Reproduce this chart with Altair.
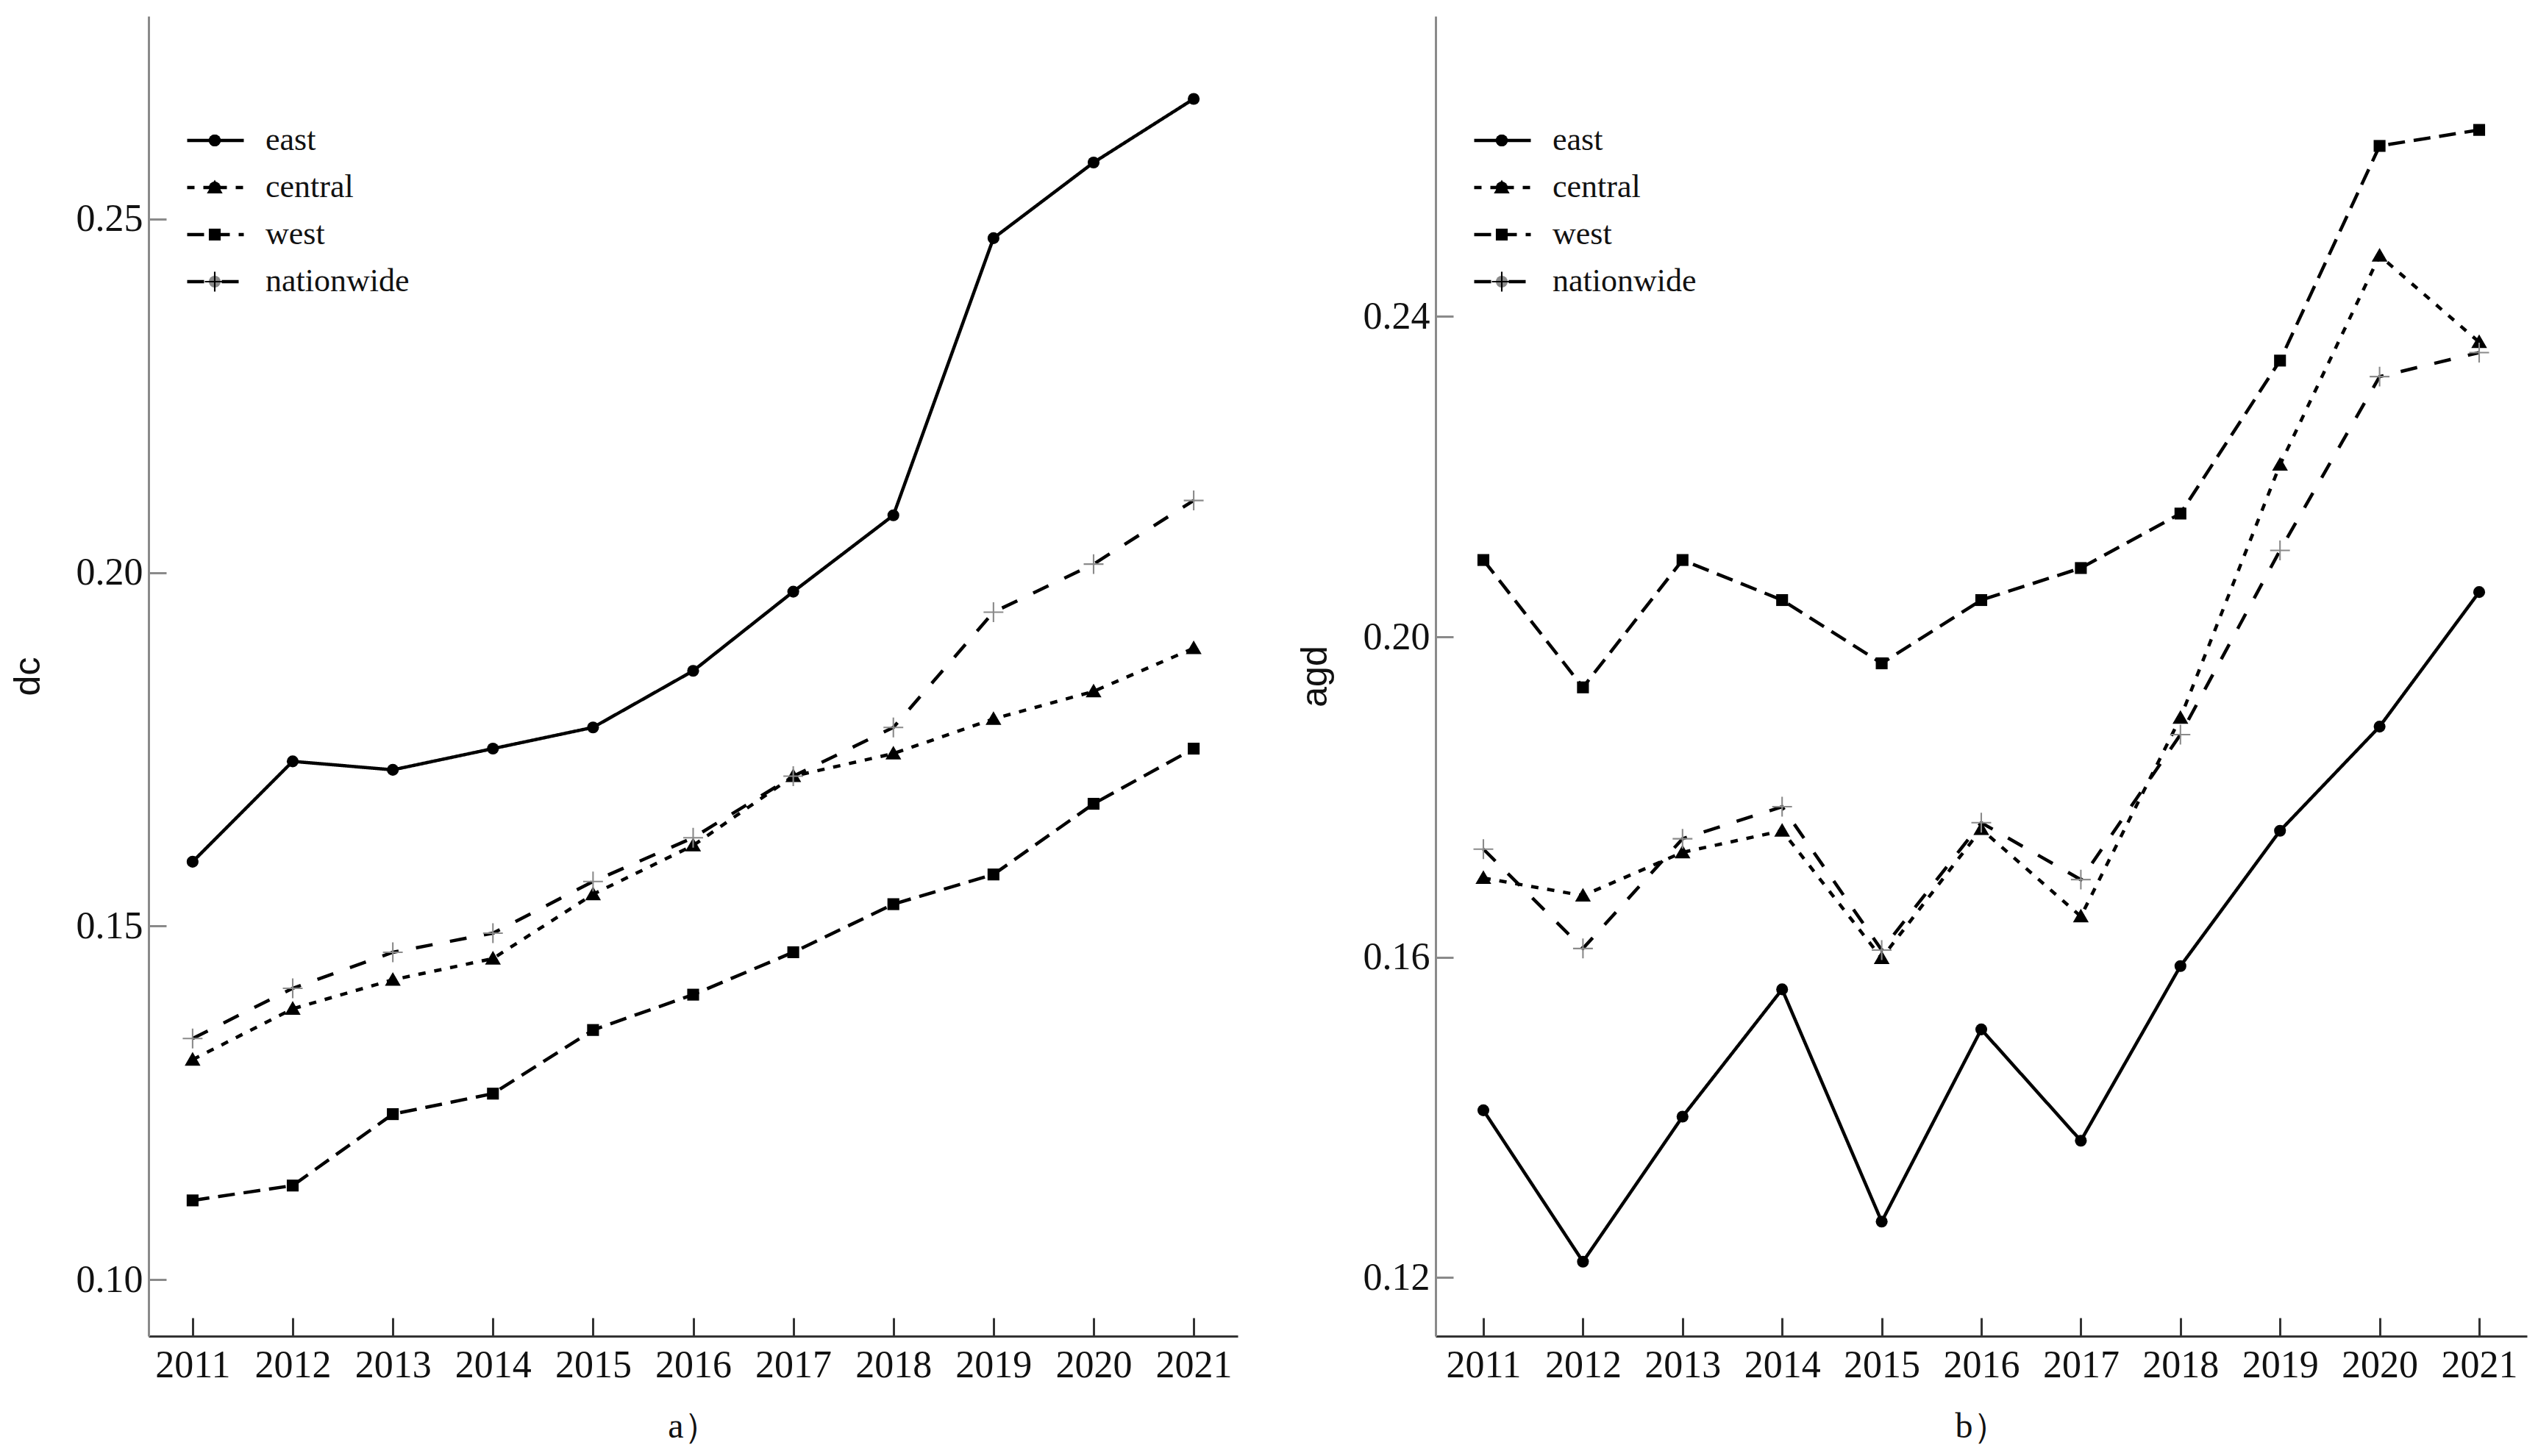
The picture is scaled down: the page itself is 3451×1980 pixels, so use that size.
import altair as alt
import pandas as pd

years = [str(y) for y in range(2011, 2022)]
series = ["east", "central", "west", "nationwide"]

# panel a) dc
dc_east = [0.1591, 0.1733, 0.1721, 0.1751, 0.1781, 0.1861, 0.1973, 0.2081, 0.2473, 0.2580, 0.2670]
dc_central = [0.1311, 0.1383, 0.1424, 0.1454, 0.1545, 0.1614, 0.1712, 0.1744, 0.1793, 0.1832, 0.1893]
dc_west = [0.1112, 0.1133, 0.1234, 0.1263, 0.1353, 0.1403, 0.1463, 0.1531, 0.1573, 0.1673, 0.1751]
dc_nation = [0.1341, 0.1412, 0.1463, 0.1490, 0.1563, 0.1625, 0.1712, 0.1781, 0.1944, 0.2012, 0.2102]

# panel b) agd
agd_east = [0.1409, 0.1220, 0.1401, 0.1560, 0.1270, 0.1510, 0.1371, 0.1589, 0.1758, 0.1888, 0.2056]
agd_central = [0.1699, 0.1677, 0.1731, 0.1758, 0.1599, 0.1760, 0.1651, 0.1899, 0.2215, 0.2476, 0.2368]
agd_west = [0.2096, 0.1937, 0.2096, 0.2046, 0.1967, 0.2046, 0.2086, 0.2154, 0.2345, 0.2613, 0.2633]
agd_nation = [0.1735, 0.1611, 0.1748, 0.1788, 0.1609, 0.1768, 0.1697, 0.1878, 0.2108, 0.2325, 0.2355]

dc_ticks = [0.10, 0.15, 0.20, 0.25]
agd_ticks = [0.12, 0.16, 0.20, 0.24]

dashes = [[1, 0], [10, 12], [23, 12], [23, 24]]
shapes = [
    "circle",
    "M0,-1.3L1.33,1.0L-1.33,1.0Z",
    "square",
    "M-1.67,-0.13H1.67V0.13H-1.67Z M-0.13,-1.67H0.13V1.67H-0.13Z",
]
colors = ["#000000", "#000000", "#000000", "#8a8a8a"]

SERIF = "Liberation Serif"
SANS = "Liberation Sans"
H = 1795


def make_df(vals):
    rows = []
    for s, v in zip(series, vals):
        for yr, x in zip(years, v):
            rows.append({"year": yr, "series": s, "series_m": s, "value": x})
    return pd.DataFrame(rows)


def panel(df, ytitle, xtitle, ydomain, yticks, xpad, width, height):
    x = alt.X(
        "year:O",
        sort=years,
        scale=alt.Scale(type="point", padding=xpad),
        axis=alt.Axis(
            title=xtitle, labelAngle=0, labelFont=SERIF, labelFontSize=52,
            labelColor="#111", labelPadding=14,
            domainColor="#333", domainWidth=3, ticks=False,
            grid=True, gridDash=[25, height - 25], gridDashOffset=25,
            gridColor="#333", gridWidth=3,
            titleFont=SERIF, titleFontSize=48, titleFontWeight="normal",
            titleColor="#111", titlePadding=34,
        ),
    )
    y = alt.Y(
        "value:Q",
        scale=alt.Scale(domain=ydomain, nice=False, zero=False),
        axis=alt.Axis(
            title=ytitle, values=yticks, format=".2f",
            labelFont=SERIF, labelFontSize=52, labelColor="#111", labelPadding=8,
            domainColor="#8a8a8a", domainWidth=3, ticks=False,
            grid=True, gridDash=[24, 5000], gridColor="#8a8a8a", gridWidth=3,
            titleFont=SANS, titleFontSize=50, titleFontWeight="normal",
            titleColor="#111", titlePadding=40,
        ),
    )
    line = alt.Chart(df).mark_line(color="black", strokeWidth=4.5).encode(
        x=x, y=y,
        strokeDash=alt.StrokeDash(
            "series:N",
            scale=alt.Scale(domain=series, range=dashes),
            legend=alt.Legend(
                title=None, orient="none", legendX=50, legendY=147,
                symbolType="stroke", symbolSize=5929, symbolStrokeWidth=4.5,
                symbolStrokeColor="black",
                labelFont=SERIF, labelFontSize=44, labelColor="#111",
                labelOffset=27, labelLimit=500, clipHeight=44, rowPadding=20,
                padding=0,
            ),
        ),
    )
    leg_m = dict(
        title=None, orient="none", legendX=68, legendY=147,
        symbolSize=260, symbolStrokeWidth=0,
        labelFont=SERIF, labelFontSize=44, labelExpr="''",
        labelOffset=0, clipHeight=44, rowPadding=20, padding=0,
    )
    pts = alt.Chart(df).mark_point(filled=True, opacity=1, size=260).encode(
        x=x, y=y,
        shape=alt.Shape("series_m:N", sort=series, scale=alt.Scale(range=shapes),
                        legend=alt.Legend(**leg_m)),
        color=alt.Color("series_m:N", sort=series, scale=alt.Scale(range=colors),
                        legend=alt.Legend(**leg_m)),
    )
    return alt.layer(line, pts).properties(width=width, height=height)


left = panel(make_df([dc_east, dc_central, dc_west, dc_nation]), "dc", "a）",
             [0.0920, 0.2787], dc_ticks, 0.44, 1481, H)
right = panel(make_df([agd_east, agd_central, agd_west, agd_nation]), "agd", "b）",
              [0.1127, 0.2775], agd_ticks, 0.48, 1484, H)

chart = (
    alt.hconcat(left, right, spacing=80)
    .resolve_scale(strokeDash="independent", shape="independent", color="independent")
    .resolve_legend(strokeDash="independent", shape="independent", color="independent")
    .properties(padding={"left": 5, "top": 14, "right": 5, "bottom": 5},
                background="white")
    .configure_view(strokeWidth=0, stroke="transparent")
)

chart.save("out.html", embed_options={"renderer": "svg", "actions": False})
